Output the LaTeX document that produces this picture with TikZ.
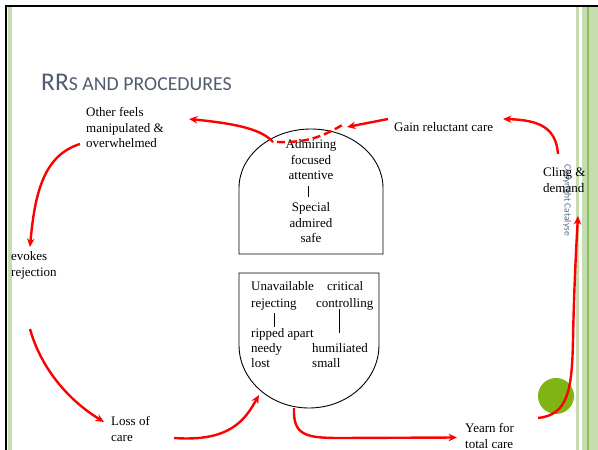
\documentclass[tikz,border=0pt]{standalone}
\usepackage{fontspec}
\setmainfont{Liberation Serif}
\newfontfamily\titlefont{Carlito}
\usetikzlibrary{arrows.meta}
\definecolor{arrred}{RGB}{255,0,0}
\definecolor{titlecol}{RGB}{80,92,112}
\definecolor{copycol}{RGB}{90,108,140}
\definecolor{lightgreen}{RGB}{197,221,176}
\definecolor{midgreen}{RGB}{140,190,90}
\definecolor{ballgreen}{RGB}{128,180,20}
\begin{document}
\begin{tikzpicture}[x=1pt,y=1pt,
  lbl/.style={font=\fontsize{13}{15.5}\selectfont, inner sep=0pt, align=left, anchor=north west},
  clbl/.style={font=\fontsize{13}{15.5}\selectfont, inner sep=0pt, align=center, anchor=north},
  arr/.style={draw=arrred, line width=2.4pt, -{Stealth[length=8.5pt,width=7.5pt]}},
  dashline/.style={draw=arrred, line width=2.4pt, dash pattern=on 8pt off 4pt},
  boxline/.style={draw=black, line width=0.9pt},
  sepline/.style={draw=black, line width=0.7pt}]
\useasboundingbox (0,0) rectangle (598,-450);
\fill[white] (0,0) rectangle (598,-450);
% frame
\fill[lightgreen] (8,-7) rectangle (12,-450);
\fill[lightgreen] (576,-7) rectangle (578.5,-450);
\fill[lightgreen] (582,-7) rectangle (598,-450);
\fill[midgreen] (586.5,-7) rectangle (588.5,-450);
\draw[line width=2.5pt] (6,-450) -- (6,-6) -- (598,-6);
% title
\node[anchor=base west, text=titlecol, inner sep=0pt] (title) at (41,-90)
  {\titlefont\fontsize{25.5}{25.5}\selectfont RR\fontsize{19.8}{19.8}\selectfont S AND PROCEDURES};
% copyright
\node[rotate=-90, text=copycol, inner sep=0pt, font=\titlefont\fontsize{9.5}{10}\selectfont] (copy) at (567,-200) {Copyright Catalyse};
% green ball
\fill[ballgreen] (556,-396) circle (18pt);
% top box
\draw[boxline] (239,-254) -- (239,-188) arc[start angle=180,end angle=0,x radius=72pt,y radius=59pt] -- (383,-254) -- cycle;
% bottom box
\draw[boxline] (239,-273) -- (379,-273) -- (379,-345) arc[start angle=0,end angle=-180,x radius=70pt,y radius=63pt] -- cycle;
% labels
\node[lbl] (other) at (86,-107.5) {Other feels\\manipulated \&\\overwhelmed};
\node[lbl] (gain) at (394,-122.5) {Gain reluctant care};
\node[lbl] (cling) at (543,-167.5) {Cling \&\\demand};
\node[lbl] (evokes) at (11,-251.5) {evokes\\rejection};
\node[lbl] (loss) at (111,-416.5) {Loss of\\care};
\node[lbl] (yearn) at (465,-423.5) {Yearn for\\total care};
\node[clbl] (admiring) at (311,-139.5) {Admiring\\focused\\attentive};
\node[clbl] (special) at (311,-202.5) {Special\\admired\\safe};
\node[lbl] (unavail) at (251,-281.5) {Unavailable};
\node[lbl] (critical) at (327,-281.5) {critical};
\node[lbl] (rejecting) at (251,-298.5) {rejecting};
\node[lbl] (controlling) at (316,-298.5) {controlling};
\node[lbl] (ripped) at (251,-328.5) {ripped apart};
\node[lbl] (needy) at (251,-343.5) {needy};
\node[lbl] (lost) at (251,-358.5) {lost};
\node[lbl] (humil) at (312,-343.5) {humiliated};
\node[lbl] (small) at (312,-358.5) {small};
% separator lines
\coordinate (s1a) at (308,-186); \coordinate (s1b) at (308,-197);
\coordinate (s2a) at (274,-313); \coordinate (s2b) at (274,-327);
\coordinate (s3a) at (339,-309); \coordinate (s3b) at (339,-333);
\draw[sepline] (s1a) -- (s1b);
\draw[sepline] (s2a) -- (s2b);
\draw[sepline] (s3a) -- (s3b);
% arrow end points
\coordinate (a1s) at (273,-142); \coordinate (a1e) at (189,-119);
\coordinate (d1s) at (277,-142); \coordinate (d1e) at (344,-124);
\coordinate (a3s) at (388,-119); \coordinate (a3e) at (347,-127);
\coordinate (a4s) at (558,-154); \coordinate (a4e) at (503,-119);
\coordinate (a5s) at (80,-144);  \coordinate (a5e) at (30,-247);
\coordinate (a6s) at (30,-329);  \coordinate (a6e) at (104,-422);
\coordinate (a7s) at (174,-438); \coordinate (a7e) at (259,-395);
\coordinate (a8s) at (294,-408); \coordinate (a8e) at (457,-437.5);
\coordinate (a9s) at (538,-418); \coordinate (a9e) at (578,-216);
% arrows
\draw[arr] (a1s) .. controls (262,-130) and (240,-124) .. (a1e);
\draw[dashline] (d1s) .. controls (310,-143) and (325,-135) .. (d1e);
\draw[arr] (a3s) -- (a3e);
\draw[arr] (a4s) .. controls (556,-128) and (540,-120) .. (a4e);
\draw[arr] (a5s) .. controls (45,-155) and (35,-190) .. (a5e);
\draw[arr] (a6s) .. controls (40,-365) and (65,-398) .. (a6e);
\draw[arr] (a7s) .. controls (230,-442) and (245,-420) .. (a7e);
\draw[arr] (a8s) .. controls (293,-435) and (305,-438) .. (340,-438) -- (a8e);
\draw[arr] (a9s) .. controls (568,-415) and (572,-390) .. (573,-340) .. controls (574,-290) and (576,-250) .. (a9e);
\end{tikzpicture}
\end{document}
